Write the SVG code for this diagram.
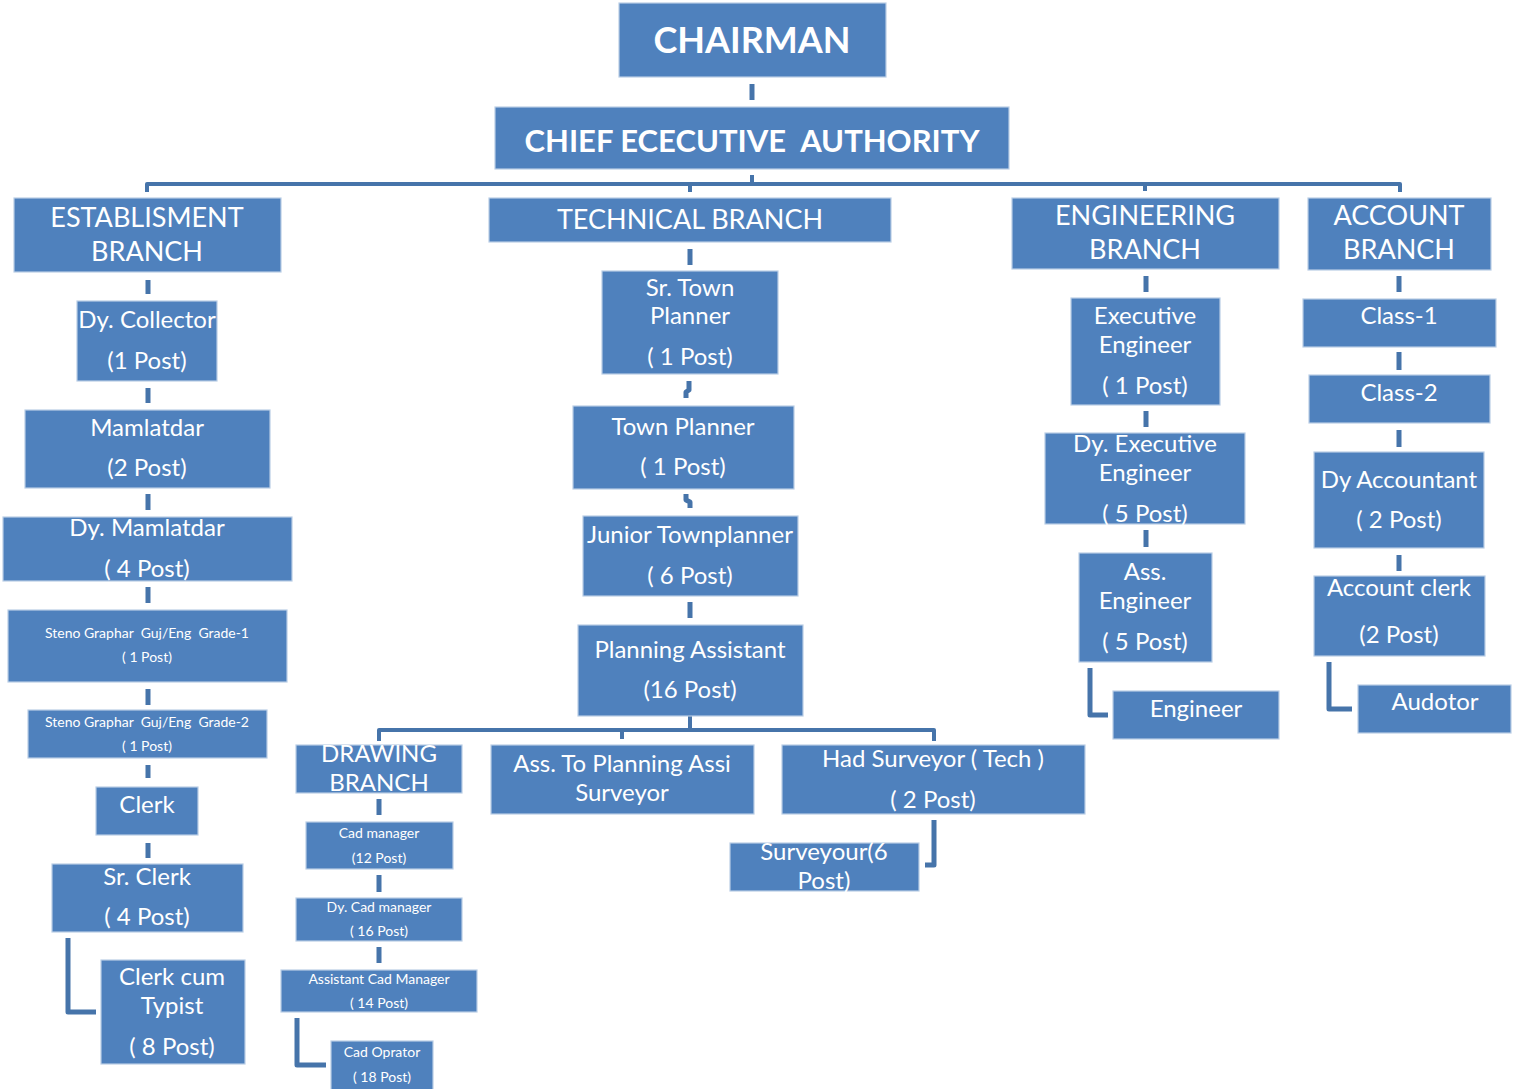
<svg xmlns="http://www.w3.org/2000/svg" width="1514" height="1089" viewBox="0 0 1514 1089">
<style>
.b{fill:#4F81BD;stroke:#B9CDE5;stroke-width:1.2}
text{font-family:Lato,"Open Sans","Liberation Sans",sans-serif;fill:#fff;text-anchor:middle;white-space:pre}
.h{font-weight:bold;font-size:36px}
.br{font-size:27px}
.m{font-size:24px}
.s{font-size:14px}
.c{fill:none;stroke:#4674AA;stroke-width:5;stroke-linejoin:round}
.bus{fill:none;stroke:#4674AA;stroke-width:4;stroke-linejoin:round}
</style>
<rect width="1514" height="1089" fill="#fff"/>
<g id="connectors">
<path class="c" d="M752 84V100"/>
<path class="bus" d="M752 175V184M147 192V184H1400V192M690 184V192M1145 184V191"/>
<path class="c" d="M148 280V294M148 388V403M148 494V510M148 587V603M148 689V705M148 765V778M148 843V858"/>
<path class="c" d="M68 938V1012H96"/>
<path class="c" d="M690 249V265M689 381V390L686 392V398M686 494V500L690 502V508M690 602V618"/>
<path class="bus" d="M690 716V730M379 741V730H934V741M622 730V739"/>
<path class="c" d="M379 799V815M379 875V892M379 947V963"/>
<path class="c" d="M297 1018V1065H326"/>
<path class="c" d="M934 820V865H925"/>
<path class="c" d="M1146 276V292M1146 411V427M1146 530V547"/>
<path class="c" d="M1090 668V715H1108"/>
<path class="c" d="M1399 276V292M1399 352V370M1399 430V447M1399 555V571"/>
<path class="c" d="M1329 662V709H1352"/>
</g>
<g id="n-chairman"><rect class="b" x="619" y="3" width="267" height="74"/><text class="h" x="752" y="53">CHAIRMAN</text></g>
<g id="n-cea"><rect class="b" x="495" y="107" width="514" height="62"/><text class="h" x="752" y="152" style="font-size:31px">CHIEF ECECUTIVE  AUTHORITY</text></g>
<g id="n-estab"><rect class="b" x="14" y="198" width="267" height="74"/><text class="br" x="147" y="227">ESTABLISMENT</text><text class="br" x="147" y="261">BRANCH</text></g>
<g id="n-tech"><rect class="b" x="489" y="198" width="402" height="44"/><text class="br" x="690" y="229">TECHNICAL BRANCH</text></g>
<g id="n-eng"><rect class="b" x="1012" y="198" width="267" height="71"/><text class="br" x="1145" y="225">ENGINEERING</text><text class="br" x="1145" y="259">BRANCH</text></g>
<g id="n-acc"><rect class="b" x="1308" y="198" width="183" height="72"/><text class="br" x="1399" y="225">ACCOUNT</text><text class="br" x="1399" y="259">BRANCH</text></g>
<g id="n-dycollector"><rect class="b" x="77" y="301" width="140" height="80"/><text class="m" x="147" y="328">Dy. Collector</text><text class="m" x="147" y="369">(1 Post)</text></g>
<g id="n-mamlatdar"><rect class="b" x="25" y="410" width="245" height="78"/><text class="m" x="147" y="436">Mamlatdar</text><text class="m" x="147" y="476">(2 Post)</text></g>
<g id="n-dymamlatdar"><rect class="b" x="3" y="517" width="289" height="64"/><text class="m" x="147" y="536">Dy. Mamlatdar</text><text class="m" x="147" y="577">( 4 Post)</text></g>
<g id="n-steno1"><rect class="b" x="8" y="610" width="279" height="72"/><text class="s" x="147" y="638">Steno Graphar  Guj/Eng  Grade-1</text><text class="s" x="147" y="662">( 1 Post)</text></g>
<g id="n-steno2"><rect class="b" x="28" y="710" width="239" height="48"/><text class="s" x="147" y="727">Steno Graphar  Guj/Eng  Grade-2</text><text class="s" x="147" y="751">( 1 Post)</text></g>
<g id="n-clerk"><rect class="b" x="96" y="787" width="102" height="48"/><text class="m" x="147" y="813">Clerk</text></g>
<g id="n-srclerk"><rect class="b" x="52" y="864" width="191" height="68"/><text class="m" x="147" y="885">Sr. Clerk</text><text class="m" x="147" y="925">( 4 Post)</text></g>
<g id="n-clerkcum"><rect class="b" x="101" y="960" width="144" height="104"/><text class="m" x="172" y="985">Clerk cum</text><text class="m" x="172" y="1014">Typist</text><text class="m" x="172" y="1055">( 8 Post)</text></g>
<g id="n-srtp"><rect class="b" x="602" y="271" width="176" height="103"/><text class="m" x="690" y="296">Sr. Town</text><text class="m" x="690" y="324">Planner</text><text class="m" x="690" y="365">( 1 Post)</text></g>
<g id="n-tp"><rect class="b" x="573" y="406" width="221" height="83"/><text class="m" x="683" y="435">Town Planner</text><text class="m" x="683" y="475">( 1 Post)</text></g>
<g id="n-jtp"><rect class="b" x="583" y="516" width="215" height="80"/><text class="m" x="690" y="543">Junior Townplanner</text><text class="m" x="690" y="584">( 6 Post)</text></g>
<g id="n-pa"><rect class="b" x="578" y="625" width="225" height="91"/><text class="m" x="690" y="658">Planning Assistant</text><text class="m" x="690" y="698">(16 Post)</text></g>
<g id="n-drawing"><rect class="b" x="296" y="745" width="166" height="48"/><text class="m" x="379" y="762">DRAWING</text><text class="m" x="379" y="791">BRANCH</text></g>
<g id="n-cadm"><rect class="b" x="306" y="822" width="147" height="47"/><text class="s" x="379" y="838">Cad manager</text><text class="s" x="379" y="863">(12 Post)</text></g>
<g id="n-dycadm"><rect class="b" x="296" y="898" width="166" height="43"/><text class="s" x="379" y="912">Dy. Cad manager</text><text class="s" x="379" y="936">( 16 Post)</text></g>
<g id="n-asscadm"><rect class="b" x="281" y="970" width="196" height="42"/><text class="s" x="379" y="984">Assistant Cad Manager</text><text class="s" x="379" y="1008">( 14 Post)</text></g>
<g id="n-cadop"><rect class="b" x="331" y="1041" width="102" height="50"/><text class="s" x="382" y="1057">Cad Oprator</text><text class="s" x="382" y="1082">( 18 Post)</text></g>
<g id="n-asstopa"><rect class="b" x="491" y="745" width="263" height="69"/><text class="m" x="622" y="772">Ass. To Planning Assi</text><text class="m" x="622" y="801">Surveyor</text></g>
<g id="n-hadsurv"><rect class="b" x="782" y="745" width="303" height="69"/><text class="m" x="933" y="767">Had Surveyor ( Tech )</text><text class="m" x="933" y="808">( 2 Post)</text></g>
<g id="n-surv"><rect class="b" x="730" y="843" width="189" height="48"/><text class="m" x="824" y="860">Surveyour(6</text><text class="m" x="824" y="889">Post)</text></g>
<g id="n-exeng"><rect class="b" x="1071" y="298" width="149" height="107"/><text class="m" x="1145" y="324">Executive</text><text class="m" x="1145" y="353">Engineer</text><text class="m" x="1145" y="394">( 1 Post)</text></g>
<g id="n-dyexeng"><rect class="b" x="1045" y="433" width="200" height="91"/><text class="m" x="1145" y="452">Dy. Executive</text><text class="m" x="1145" y="481">Engineer</text><text class="m" x="1145" y="522">( 5 Post)</text></g>
<g id="n-asseng"><rect class="b" x="1079" y="553" width="133" height="109"/><text class="m" x="1145" y="580">Ass.</text><text class="m" x="1145" y="609">Engineer</text><text class="m" x="1145" y="650">( 5 Post)</text></g>
<g id="n-eng2"><rect class="b" x="1113" y="691" width="166" height="48"/><text class="m" x="1196" y="717">Engineer</text></g>
<g id="n-class1"><rect class="b" x="1303" y="299" width="193" height="48"/><text class="m" x="1399" y="324">Class-1</text></g>
<g id="n-class2"><rect class="b" x="1309" y="375" width="181" height="48"/><text class="m" x="1399" y="401">Class-2</text></g>
<g id="n-dyacc"><rect class="b" x="1314" y="452" width="170" height="96"/><text class="m" x="1399" y="488">Dy Accountant</text><text class="m" x="1399" y="528">( 2 Post)</text></g>
<g id="n-accclerk"><rect class="b" x="1314" y="576" width="171" height="80"/><text class="m" x="1399" y="596">Account clerk</text><text class="m" x="1399" y="643">(2 Post)</text></g>
<g id="n-audotor"><rect class="b" x="1358" y="685" width="153" height="48"/><text class="m" x="1435" y="710">Audotor</text></g>
</svg>
